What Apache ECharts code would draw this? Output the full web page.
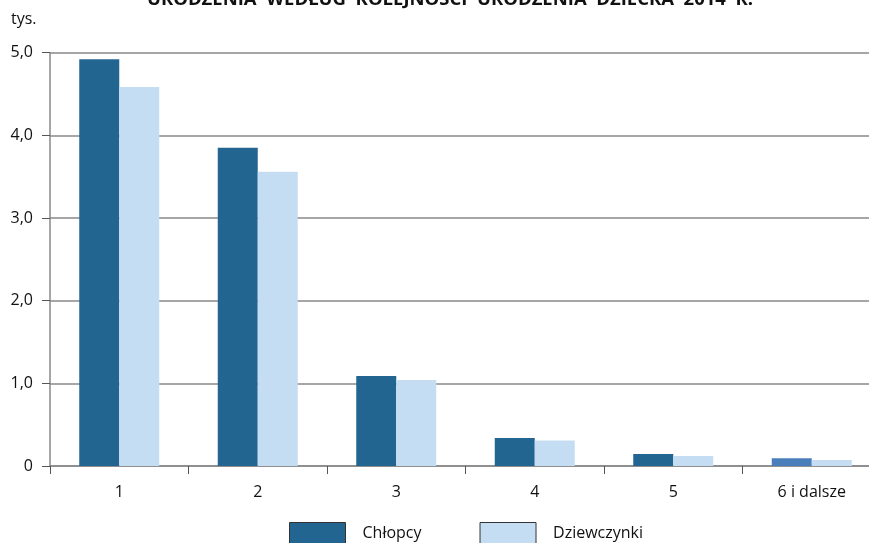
<!DOCTYPE html>
<html><head><meta charset="utf-8">
<script src="https://cdn.jsdelivr.net/npm/echarts@6/dist/echarts.min.js"></script>
<style>html,body{margin:0;padding:0;background:#fff}#c{width:869px;height:543px}</style>
</head><body><div id="c"></div>
<script>
const categories = ['1','2','3','4','5','6 i dalsze'];
const boys = [4.92, 3.85, 1.09, 0.34, 0.145, 0.093];
const girls = [4.585, 3.56, 1.04, 0.31, 0.12, 0.073];
const yTicks = [0, 1, 2, 3, 4, 5];
const seriesNames = ['Chłopcy', 'Dziewczynki'];

const font = 'Open Sans, Lato, sans-serif';
const chart = echarts.init(document.getElementById('c'));
chart.setOption({
  animation: false,
  backgroundColor: '#fff',
  title: {
    text: 'URODZENIA  WEDŁUG  KOLEJNOŚCI  URODZENIA  DZIECKA  2014  R.',
    left: 142, top: -15,
    textStyle: {fontFamily: font, fontWeight: 'bold', fontSize: 18.5, color: '#111'}
  },
  graphic: [{type: 'text', left: 11, top: 11, style: {text: 'tys.', font: '16px ' + font, fill: '#111'}}],
  legend: {
    top: 522, left: 289, padding: 0,
    icon: 'rect',
    itemWidth: 56, itemHeight: 22, itemGap: 58,
    data: seriesNames,
    textStyle: {fontFamily: font, fontSize: 16, color: '#111', padding: [0,0,0,12]},
    itemStyle: {borderColor: '#333', borderWidth: 1}
  },
  grid: {left: 50, width: 831, top: 52.7, bottom: 77, containLabel: false, outerBoundsMode: 'none'},
  xAxis: {
    type: 'category', data: categories,
    axisLine: {lineStyle: {color: '#888', width: 1.5}},
    axisTick: {show: true, length: 8, lineStyle: {color: '#555'}},
    axisLabel: {margin: 18, fontFamily: font, fontSize: 16, color: '#111'}
  },
  yAxis: {
    type: 'value', min: 0, max: 5, interval: 1,
    axisLine: {show: true, lineStyle: {color: '#888', width: 1.5}},
    axisTick: {show: true, length: 8, lineStyle: {color: '#555'}},
    splitLine: {lineStyle: {color: '#888', width: 1.5}},
    axisLabel: {margin: 17, fontFamily: font, fontSize: 16, color: '#111',
      formatter: v => v === 0 ? '0' : v.toFixed(1).replace('.', ',')}
  },
  series: [
    {name: seriesNames[0], type: 'bar', barWidth: 40, barGap: '0%',
     itemStyle: {color: '#236591'},
     data: boys.map((v, i) => i === 5 ? {value: v, itemStyle: {color: '#4a7ebb'}} : v)},
    {name: seriesNames[1], type: 'bar', barWidth: 40,
     itemStyle: {color: '#c5ddf2'}, data: girls}
  ]
});
</script></body></html>
